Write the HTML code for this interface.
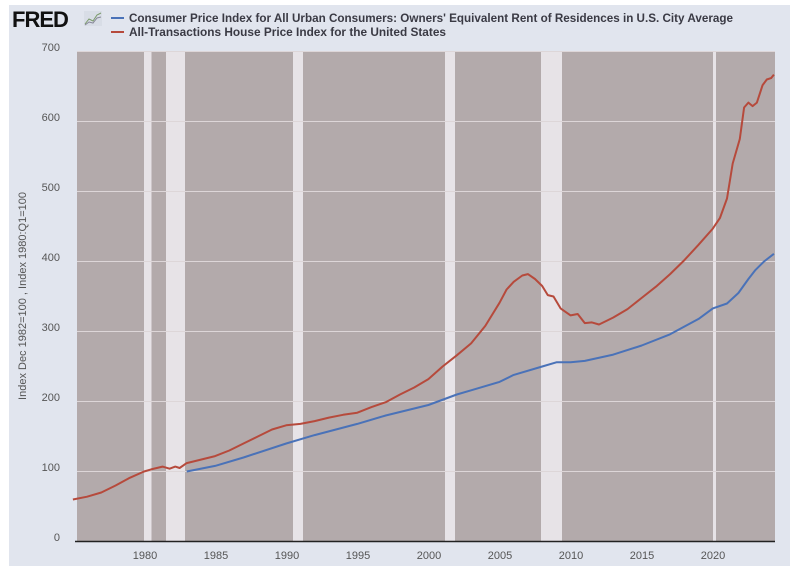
<!DOCTYPE html>
<html><head><meta charset="utf-8"><style>
html,body{margin:0;padding:0;background:#fff;}
body{width:800px;height:576px;overflow:hidden;font-family:"Liberation Sans",sans-serif;}
</style></head><body>
<svg width="800" height="576" xmlns="http://www.w3.org/2000/svg" font-family="Liberation Sans, sans-serif">
<rect x="9" y="5" width="781" height="561" fill="#e1e5ee"/>
<rect x="77" y="51.5" width="698" height="490" fill="#b3aaab"/>
<g fill="#e7e3e7">
<rect x="144" y="51.5" width="7.5" height="490"/>
<rect x="166" y="51.5" width="19" height="490"/>
<rect x="293" y="51.5" width="10" height="490"/>
<rect x="445" y="51.5" width="10" height="490"/>
<rect x="541" y="51.5" width="21" height="490"/>
<rect x="713" y="51.5" width="3" height="490"/>
</g>
<g stroke="#ddd6d8" stroke-width="1">
<line x1="77" x2="775" y1="51.5" y2="51.5"/><line x1="77" x2="775" y1="121.5" y2="121.5"/>
<line x1="77" x2="775" y1="191.5" y2="191.5"/><line x1="77" x2="775" y1="261.5" y2="261.5"/>
<line x1="77" x2="775" y1="331.5" y2="331.5"/><line x1="77" x2="775" y1="401.5" y2="401.5"/>
<line x1="77" x2="775" y1="471.5" y2="471.5"/>
</g>
<line x1="75" x2="775" y1="541.5" y2="541.5" stroke="#222" stroke-width="1.5"/>
<g font-size="11" fill="#555" text-anchor="end">
<text x="60" y="51">700</text><text x="60" y="121">600</text><text x="60" y="191">500</text>
<text x="60" y="261">400</text><text x="60" y="331">300</text><text x="60" y="401">200</text>
<text x="60" y="471">100</text><text x="60" y="541">0</text>
</g>
<g font-size="11" fill="#555" text-anchor="middle">
<text x="145" y="559">1980</text><text x="216" y="559">1985</text><text x="287" y="559">1990</text>
<text x="358" y="559">1995</text><text x="429" y="559">2000</text><text x="500" y="559">2005</text>
<text x="571" y="559">2010</text><text x="642" y="559">2015</text><text x="713" y="559">2020</text>
</g>
<text transform="translate(26,296) rotate(-90)" font-size="11" fill="#555" text-anchor="middle">Index Dec 1982=100 , Index 1980:Q1=100</text>
<text x="12" y="27" font-size="22" font-weight="bold" fill="#111" letter-spacing="-1">FRED</text>
<rect x="84" y="11" width="18" height="15" fill="#d8dde6"/>
<polyline points="85,24 89,19 93,21 97,15 101,13" fill="none" stroke="#7a9a6a" stroke-width="1"/>
<polyline points="85,25 89,22 93,23 97,18 101,17" fill="none" stroke="#889" stroke-width="1"/>
<line x1="111" x2="124" y1="18" y2="18" stroke="#4a72b8" stroke-width="2"/>
<line x1="111" x2="124" y1="32" y2="32" stroke="#b64a3c" stroke-width="2"/>
<g font-size="11.5" font-weight="bold" fill="#3a3a44">
<text x="129" y="22" textLength="604" lengthAdjust="spacingAndGlyphs">Consumer Price Index for All Urban Consumers: Owners' Equivalent Rent of Residences in U.S. City Average</text>
<text x="129" y="36" textLength="317" lengthAdjust="spacingAndGlyphs">All-Transactions House Price Index for the United States</text>
</g>
<path id="red" fill="none" stroke="#b64a3c" stroke-width="2" stroke-linejoin="round"/>
<path id="blue" fill="none" stroke="#4a72b8" stroke-width="2" stroke-linejoin="round"/>
</svg>
<script>
function X(y){return 144+(y-1980)*14.22;}function Y(v){return 541.5-v*0.7;}
function P(a){return a.map(function(p,i){return (i?'L':'M')+X(p[0]).toFixed(1)+','+Y(p[1]).toFixed(1);}).join('');}
var red=[[1975,60],[1976,64],[1977,70],[1978,80],[1979,91],[1980,100],[1980.5,103],[1981.3,107],[1981.8,104],[1982.2,107],[1982.5,105],[1983,112],[1984,117],[1985,122],[1986,130],[1987,140],[1988,150],[1989,160],[1990,166],[1991,168],[1992,172],[1993,177],[1994,181],[1995,184],[1996,192],[1997,199],[1998,210],[1999,220],[2000,232],[2001,250],[2002,266],[2003,283],[2004,308],[2005,341],[2005.5,360],[2006,371],[2006.6,380],[2007,382],[2007.5,375],[2008,365],[2008.4,352],[2008.8,350],[2009.3,333],[2010,323],[2010.5,325],[2011,312],[2011.5,313],[2012,310],[2012.5,315],[2013,320],[2014,332],[2015,348],[2016,364],[2017,382],[2018,402],[2019,424],[2020,447],[2020.5,462],[2021,490],[2021.4,540],[2021.9,575],[2022.2,620],[2022.5,627],[2022.8,622],[2023.1,627],[2023.5,652],[2023.8,660],[2024.1,662],[2024.3,667]];
var blue=[[1983,100],[1985,108],[1987,120],[1990,140],[1992,152],[1995,168],[1997,180],[2000,195],[2002,210],[2003,216],[2005,228],[2006,238],[2008,250],[2009,256],[2010,256],[2011,258],[2013,267],[2015,280],[2017,296],[2019,318],[2020,333],[2021,340],[2021.8,355],[2022.5,375],[2023,388],[2023.6,400],[2024.3,411]];
document.getElementById('red').setAttribute('d',P(red));
document.getElementById('blue').setAttribute('d',P(blue));
</script>
</body></html>
